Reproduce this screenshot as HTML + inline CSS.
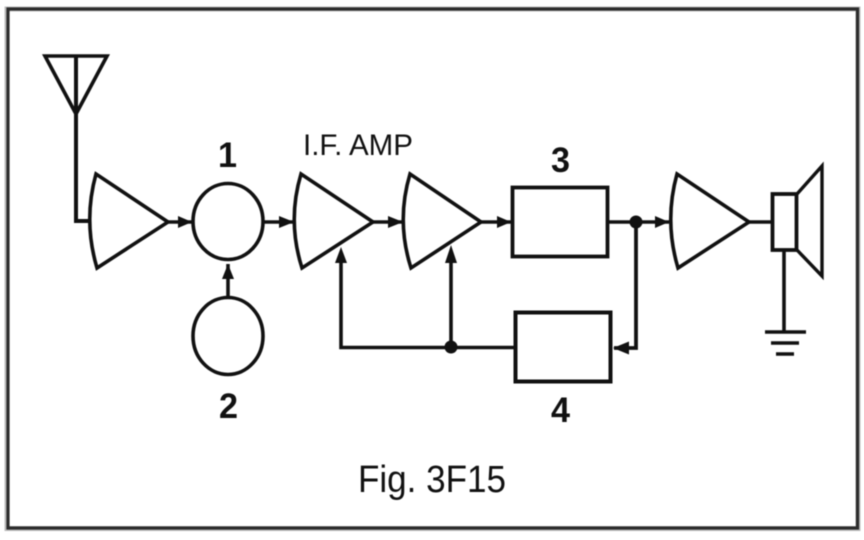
<!DOCTYPE html>
<html><head><meta charset="utf-8"><style>
html,body{margin:0;padding:0;background:#fff}
svg{display:block;width:864px;height:540px;filter:blur(.5px)}
text{font-family:"Liberation Sans",sans-serif;fill:#111}
</style></head><body>
<svg xmlns="http://www.w3.org/2000/svg" width="864" height="540" viewBox="0 0 864 540">
<rect width="864" height="540" fill="#fff"/>
<rect x="7" y="9" width="851" height="519.500" fill="none" stroke="#bbb" stroke-width="5"/>
<rect x="8" y="9" width="849.500" height="519" fill="none" stroke="#2c2c2c" stroke-width="3.200"/>
<g fill="none" stroke="#111" stroke-width="3.600" stroke-linejoin="miter">
<path d="M45 56H107L76 114Z"/>
<path d="M76 56V221H91" stroke-width="4"/>
<path d="M96 174L168 222L97 268Q83 221 96 174Z"/>
<path d="M301 174L373 222L302 268Q287 221 301 174Z"/>
<path d="M410 174L481 222L411 268Q396 221 410 174Z"/>
<path d="M677 174L749 222L678 268Q664 221 677 174Z"/>
<ellipse cx="228" cy="221.500" rx="35" ry="38"/>
<ellipse cx="228" cy="336" rx="35" ry="38.500"/>
<rect x="512.500" y="187.500" width="95" height="69" stroke-width="3.800"/>
<rect x="515.500" y="312.500" width="95" height="69" stroke-width="4"/>
<path d="M168 222H192M264 222H294M373 222H403M481 222H511M608 222H669M749 222H772"/>
<path d="M228 298V264"/>
<path d="M341 254V347.500H515M451 254V347"/>
<path d="M636 222V348H614" stroke-width="3.800"/>
<rect x="772.500" y="194" width="24" height="56" stroke-width="3.800"/>
<path d="M797 194L822 166V276L797 250" stroke-width="3.400"/>
<path d="M784 250V332"/>
<path d="M765 332H806M771 343H799M776 354H794"/>
</g>
<g fill="#111">
<path d="M192 222L178 216V228Z"/>
<path d="M294 222L279 216V228Z"/>
<path d="M403 222L388 216V228Z"/>
<path d="M511 222L497 216V228Z"/>
<path d="M669 222L655 216V228Z"/>
<path d="M228 264L222 279H234Z"/>
<path d="M341 247L335 263H347Z"/>
<path d="M451 245L445 263H457Z"/>
<path d="M613 348L629 341.500V354.500Z"/>
<circle cx="636" cy="222" r="6.500"/>
<circle cx="451" cy="347" r="6.500"/>
</g>
<text x="218" y="167" font-size="35" font-weight="bold" textLength="19" lengthAdjust="spacingAndGlyphs">1</text>
<text x="219" y="418" font-size="35" font-weight="bold" textLength="19" lengthAdjust="spacingAndGlyphs">2</text>
<text x="551" y="172" font-size="35" font-weight="bold" textLength="19" lengthAdjust="spacingAndGlyphs">3</text>
<text x="551" y="422" font-size="35" font-weight="bold" textLength="19" lengthAdjust="spacingAndGlyphs">4</text>
<text x="303" y="155" font-size="30" textLength="110" lengthAdjust="spacingAndGlyphs">I.F. AMP</text>
<text x="358" y="492" font-size="38" textLength="148" lengthAdjust="spacingAndGlyphs">Fig. 3F15</text>
</svg>
</body></html>
